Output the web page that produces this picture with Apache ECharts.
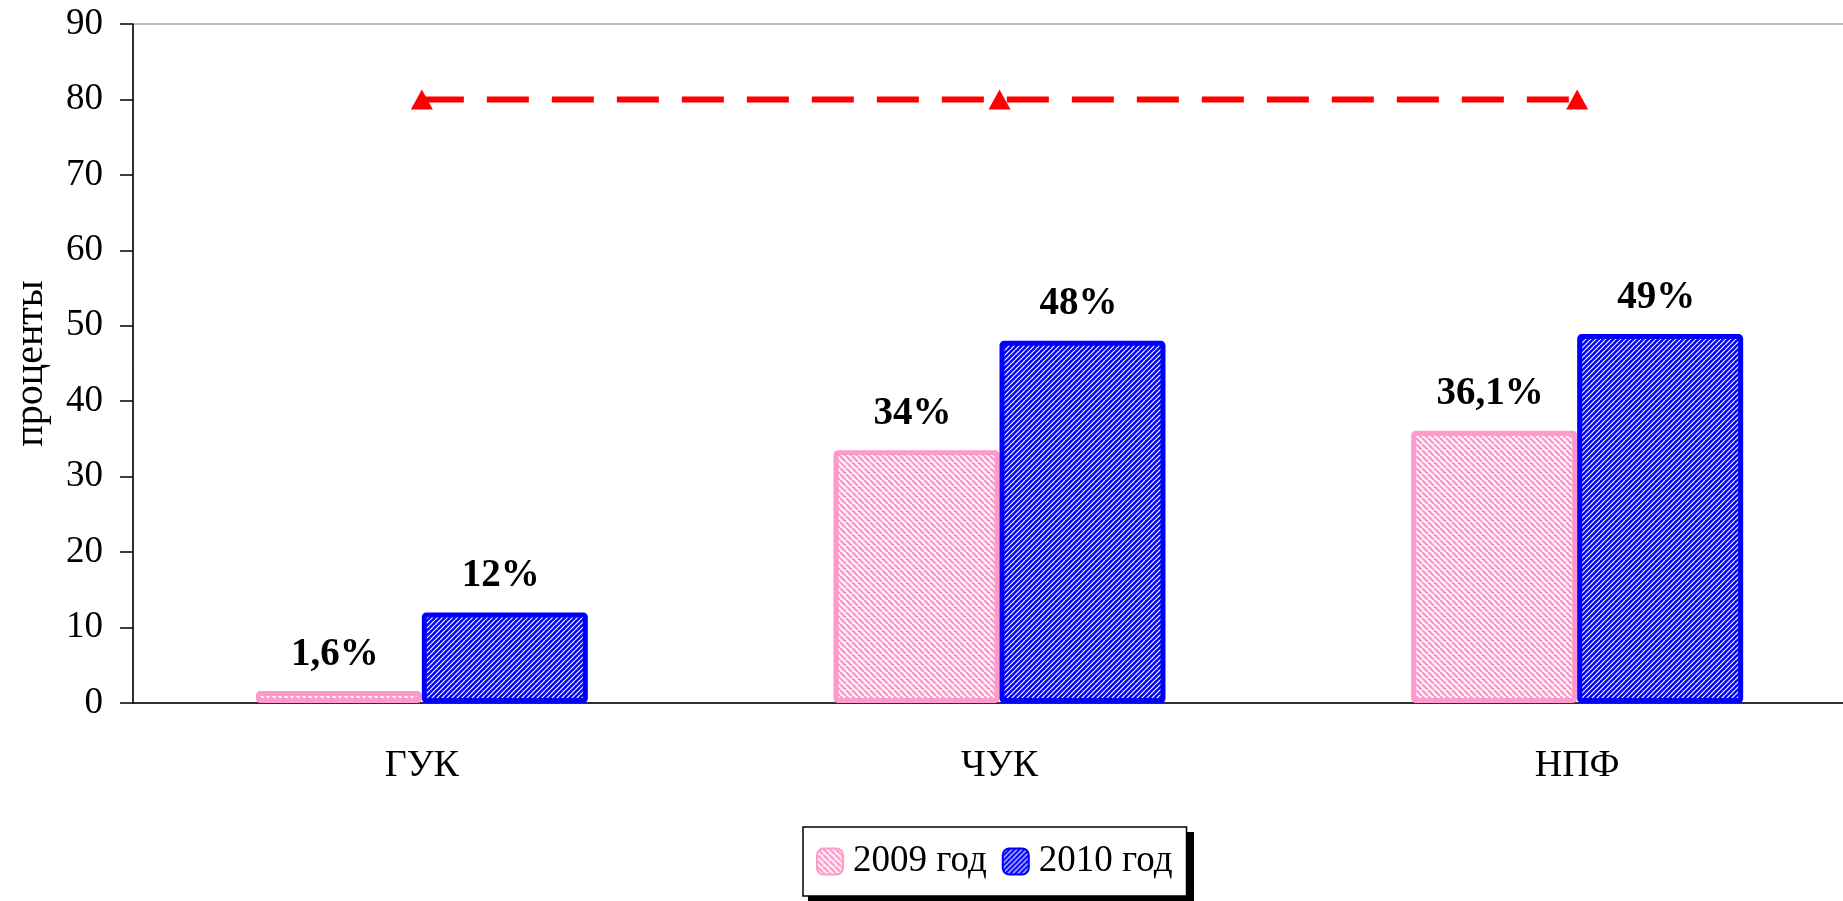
<!DOCTYPE html>
<html>
<head>
<meta charset="utf-8">
<script src="https://cdn.jsdelivr.net/npm/echarts@6/dist/echarts.min.js"></script>
<style>
html,body{margin:0;padding:0;background:#fff;overflow:hidden;}
#chart{width:1866px;height:901px;}
</style>
</head>
<body>
<div id="chart"></div>
<script>
// ---- data ----
const categories = ['ГУК', 'ЧУК', 'НПФ'];
const values2009 = [1.6, 33.5, 36.1];
const values2010 = [12, 48, 48.9];
const labels2009 = ['1,6%', '34%', '36,1%'];
const labels2010 = ['12%', '48%', '49%'];
const targetLine = [80, 80, 80];
const seriesNames = ['2009 год', '2010 год'];
const yTicks = { min: 0, max: 90, interval: 10 };
const yAxisName = 'проценты';

// ---- hatch patterns ----
function makeHatch(bg, fg, size, lw, dir) {
  const c = document.createElement('canvas');
  c.width = size; c.height = size;
  const ctx = c.getContext('2d');
  ctx.fillStyle = bg;
  ctx.fillRect(0, 0, size, size);
  ctx.strokeStyle = fg;
  ctx.lineWidth = lw;
  ctx.beginPath();
  for (let k = -1; k <= 1; k++) {
    const x0 = k * size;
    if (dir === '\\') {
      ctx.moveTo(x0, 0); ctx.lineTo(x0 + size, size);
    } else {
      ctx.moveTo(x0, size); ctx.lineTo(x0 + size, 0);
    }
  }
  ctx.stroke();
  return c;
}
const pinkPattern = { image: makeHatch('#ffffff', '#FF99CC', 6, 2.6, '\\'), repeat: 'repeat' };
const bluePattern = { image: makeHatch('#0000FF', '#ffffff', 5, 1.2, '/'), repeat: 'repeat' };

const FONT = 'Liberation Serif';

const chart = echarts.init(document.getElementById('chart'), null, { renderer: 'canvas' });
chart.setOption({
  animation: false,
  backgroundColor: '#ffffff',
  grid: {
    left: 133, right: 0, top: 24, bottom: 198,
    outerBoundsMode: 'none',
    show: true, borderColor: '#808080', borderWidth: 1, backgroundColor: 'transparent'
  },
  graphic: [{
    type: 'rect',
    left: 808, top: 832,
    shape: { width: 386, height: 69 },
    style: { fill: '#000' },
    z: 1
  }],
  legend: {
    data: seriesNames,
    left: 803, top: 827,
    orient: 'horizontal',
    padding: [16, 14, 16, 13],
    itemWidth: 26, itemHeight: 26, itemGap: 15,
    borderColor: '#000', borderWidth: 1.5,
    backgroundColor: '#fff',
    z: 5,
    textStyle: { fontFamily: FONT, fontSize: 37, color: '#000', padding: [0, 0, 0, 5] }
  },
  xAxis: {
    type: 'category',
    data: categories,
    axisLine: { lineStyle: { color: '#000', width: 1.5 } },
    axisTick: { show: false },
    axisLabel: { fontFamily: FONT, fontSize: 38, color: '#000', margin: 44 },
    splitLine: { show: false }
  },
  yAxis: {
    type: 'value',
    min: yTicks.min, max: yTicks.max, interval: yTicks.interval,
    name: yAxisName,
    nameLocation: 'middle',
    nameRotate: 90,
    nameGap: 82,
    nameTextStyle: { fontFamily: FONT, fontSize: 40, color: '#000' },
    axisLine: { show: true, lineStyle: { color: '#000', width: 1.5 } },
    axisTick: { show: true, length: 13, inside: false, lineStyle: { color: '#000', width: 1.5 } },
    axisLabel: { fontFamily: FONT, fontSize: 37, color: '#000', margin: 30, padding: [4, 0, 0, 0] },
    splitLine: { show: false }
  },
  series: [
    {
      name: seriesNames[0],
      type: 'bar',
      data: values2009,
      barWidth: 166,
      barGap: '0%',
      itemStyle: { color: pinkPattern, borderColor: '#FF99CC', borderWidth: 5, borderRadius: 2 },
      label: {
        show: true, position: 'top', distance: 17, offset: [-4, 0],
        fontFamily: FONT, fontSize: 39, fontWeight: 'bold', color: '#000',
        formatter: p => labels2009[p.dataIndex]
      }
    },
    {
      name: seriesNames[1],
      type: 'bar',
      data: values2010,
      barWidth: 166,
      barGap: '0%',
      itemStyle: { color: bluePattern, borderColor: '#0000FF', borderWidth: 5, borderRadius: 2 },
      label: {
        show: true, position: 'top', distance: 17, offset: [-4, 0],
        fontFamily: FONT, fontSize: 39, fontWeight: 'bold', color: '#000',
        formatter: p => labels2010[p.dataIndex]
      }
    },
    {
      name: 'норматив',
      type: 'line',
      data: targetLine,
      symbol: 'triangle',
      symbolSize: [22, 20],
      itemStyle: { color: '#FF0000' },
      lineStyle: { color: '#FF0000', width: 6, type: [42, 23] },
      label: { show: false },
      z: 5
    }
  ]
});
</script>
</body>
</html>
